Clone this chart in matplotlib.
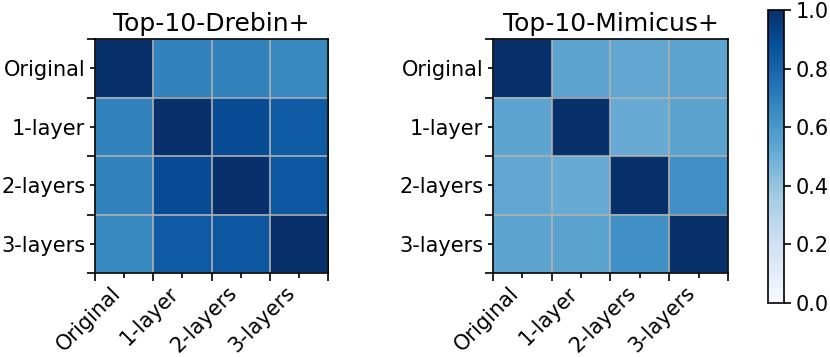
import matplotlib
matplotlib.use("Agg")
import matplotlib.pyplot as plt
import numpy as np

labels = ["Original", "1-layer", "2-layers", "3-layers"]

drebin = [
    [1.00, 0.68, 0.68, 0.66],
    [0.68, 1.00, 0.89, 0.83],
    [0.68, 0.89, 1.00, 0.85],
    [0.66, 0.83, 0.85, 1.00],
]

mimicus = [
    [1.00, 0.54, 0.53, 0.54],
    [0.54, 1.00, 0.51, 0.55],
    [0.53, 0.51, 1.00, 0.63],
    [0.54, 0.55, 0.63, 1.00],
]

titles = ["Top-10-Drebin+", "Top-10-Mimicus+"]


def draw(ax, data, title):
    im = ax.imshow(np.array(data), cmap="Blues", vmin=0, vmax=1, aspect="auto")
    n = len(labels)
    ax.set_xticks(np.arange(n))
    ax.set_yticks(np.arange(n))
    ax.set_xticklabels(labels, rotation=45, ha="right", fontsize=15)
    ax.set_yticklabels(labels, fontsize=15)
    ax.set_xticks(np.arange(-0.5, n, 1), minor=True)
    ax.set_yticks(np.arange(-0.5, n, 1), minor=True)
    ax.grid(which="minor", color="#b0b0b0", linewidth=1.2)
    ax.tick_params(which="minor", length=6, width=1.2)
    ax.tick_params(which="major", length=3.5, width=1.2)
    ax.set_title(title, fontsize=18, pad=6)
    for s in ax.spines.values():
        s.set_linewidth(1.2)
    return im


def main():
    fig = plt.figure(figsize=(8.3, 3.57), dpi=100)
    ax1 = fig.add_axes([0.1145, 0.235, 0.281, 0.655])
    ax2 = fig.add_axes([0.594, 0.235, 0.283, 0.655])
    cax = fig.add_axes([0.925, 0.151, 0.0193, 0.821])

    draw(ax1, drebin, titles[0])
    im = draw(ax2, mimicus, titles[1])

    cb = fig.colorbar(im, cax=cax, ticks=[0.0, 0.2, 0.4, 0.6, 0.8, 1.0])
    cb.ax.tick_params(labelsize=15, length=5, width=1.2)
    cb.outline.set_linewidth(1.2)

    fig.savefig("out.png", dpi=100)


if __name__ == "__main__":
    main()
